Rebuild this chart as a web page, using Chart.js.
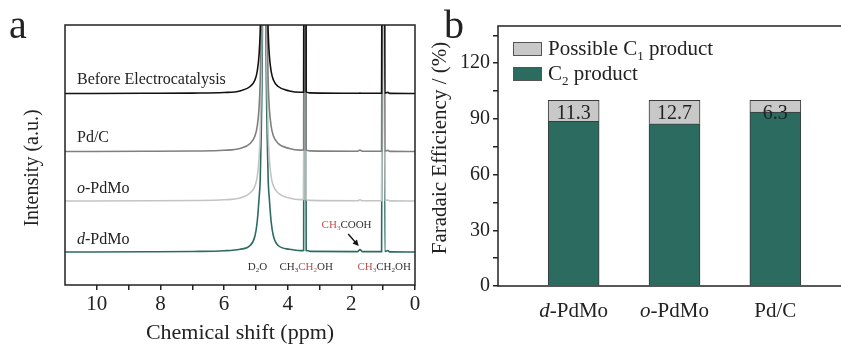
<!DOCTYPE html>
<html lang="en">
  <head>
    <title>NMR and Faradaic efficiency</title>
    <style>
      html, body { margin: 0; padding: 0; overflow: hidden; background: #fff; }
      #wrap { position: relative; width: 841px; height: 346px; overflow: hidden; }
      #nmr { position: absolute; left: 0; top: 0; }
      #fe { position: absolute; left: 420px; top: 0; }
    </style>
  </head>
  <body>
    <div id="wrap">
      <canvas id="nmr" width="430" height="346"></canvas>
      <canvas id="fe" width="440" height="346"></canvas>
    </div>

    <script src="https://cdn.jsdelivr.net/npm/chart.js"></script>

    <script>
      // panel a: 1H NMR spectra (intensity above each baseline, a.u.)
      const shiftPpm = [11, 8.5, 7.0, 6.0, 5.5, 5.18, 5.03, 4.96, 4.90, 4.865, 4.835, 4.80, 4.77, 4.74,
        4.71, 4.68, 4.645, 4.615, 4.58, 4.52, 4.45, 4.30, 3.95, 3.60, 3.50, 3.475, 3.455, 3.44, 3.42,
        3.37, 3.30, 1.80, 1.73, 1.66, 1.05, 1.00, 0.985, 0.97, 0.95, 0.85, 0.80, 0];
      const beforeSignal = [0, 0.2, 0.4, 1.0, 2.6, 7, 13.5, 22, 39, 62, 105, 200, 380, 500,
        380, 200, 105, 62, 39, 22, 13.5, 7, 2.6, 1.2, 1.4, 600, 900, 600, 1.5,
        1.0, 0.6, 0.2, 0.4, 0.2, 0.3, 600, 900, 600, 0.4, 1.2, 0.1, 0];
      const pdcSignal = [0, 0.2, 0.5, 1.2, 3, 8, 15.5, 25, 44, 70, 120, 220, 400, 520,
        400, 220, 120, 70, 44, 25, 15.5, 8, 3, 1.4, 1.5, 600, 900, 600, 1.5,
        1.0, 0.6, 0.3, 1.5, 0.3, 0.3, 600, 900, 600, 0.4, 1.2, 0.1, 0];
      const oPdMoSignal = [0, 0.2, 0.5, 1.2, 3, 8, 15, 24, 43, 68, 115, 215, 400, 520,
        400, 215, 115, 68, 43, 24, 15, 8, 3, 1.4, 1.5, 600, 900, 600, 1.5,
        1.0, 0.6, 0.3, 1.2, 0.3, 0.3, 600, 900, 600, 0.4, 1.0, 0.1, 0];
      const dPdMoSignal = [0, 0.2, 0.5, 1.2, 2.8, 6.5, 16, 30, 54, 72, 115, 200, 380, 500,
        380, 200, 115, 72, 54, 30, 16, 6.5, 2.8, 1.4, 1.6, 600, 900, 600, 1.5,
        1.2, 0.6, 0.4, 2.5, 0.4, 0.4, 600, 900, 600, 0.5, 1.5, 0.1, 0];
      const spectraNames = ["Before Electrocatalysis", "Pd/C", "o-PdMo", "d-PdMo"];
      const baselineOffsets = [191.5, 133.5, 84, 33];
      const shiftTicks = [0, 2, 4, 6, 8, 10];

      // panel b: faradaic efficiency (%)
      const catalysts = ["d-PdMo", "o-PdMo", "Pd/C"];
      const c2Values = [88.7, 87.3, 93.7];
      const c1Values = [11.3, 12.7, 6.3];
      const feTicks = [0, 30, 60, 90, 120];

      const SERIF = '"Liberation Serif", "Times New Roman", serif';
      const INK = "#222";
      const RED = "#c0504d";

      // draw text made of pieces (subscripts, italics, colours)
      function richText(ctx, parts, x, y, size, align) {
        const fontOf = (p) =>
          (p.i ? "italic " : "") + (p.sub ? Math.round(size * 0.62) : size) + "px " + SERIF;
        const widths = parts.map((p) => {
          ctx.font = fontOf(p);
          return ctx.measureText(p.t).width;
        });
        const total = widths.reduce((a, b) => a + b, 0);
        let cx = align === "center" ? x - total / 2 : x;
        ctx.textAlign = "left";
        ctx.textBaseline = "alphabetic";
        parts.forEach((p, k) => {
          ctx.font = fontOf(p);
          ctx.fillStyle = p.c || INK;
          ctx.fillText(p.t, cx, y + (p.sub ? size * 0.22 : 0));
          cx += widths[k];
        });
      }

      function nameParts(name) {
        const m = name.match(/^([od])(-.*)$/);
        return m ? [{ t: m[1], i: true }, { t: m[2] }] : [{ t: name }];
      }

      function verticalTitle(ctx, text, x, y, size) {
        ctx.save();
        ctx.translate(x, y);
        ctx.rotate(-Math.PI / 2);
        ctx.font = size + "px " + SERIF;
        ctx.fillStyle = INK;
        ctx.textAlign = "center";
        ctx.textBaseline = "middle";
        ctx.fillText(text, 0, 0);
        ctx.restore();
      }

      const nmrDecor = {
        id: "nmrDecor",
        afterDraw(chart) {
          const { ctx, chartArea: a, scales } = chart;
          const x = scales.x;
          ctx.save();
          ctx.strokeStyle = INK;
          ctx.lineWidth = 1.5;
          ctx.strokeRect(a.left, a.top, a.right - a.left, a.bottom - a.top);

          verticalTitle(ctx, "Intensity (a.u.)", 33, 168, 20);

          // spectrum names
          const nameY = [84, 141.5, 192.5, 244];
          spectraNames.forEach((n, k) => richText(ctx, nameParts(n), 77, nameY[k], 16, "left"));

          // peak assignments
          const dark = "#333";
          richText(ctx, [{ t: "D", c: dark }, { t: "2", sub: true, c: dark }, { t: "O", c: dark }],
            x.getPixelForValue(4.95), 270, 11, "center");
          richText(ctx, [{ t: "CH", c: dark }, { t: "3", sub: true, c: dark }, { t: "CH", c: RED },
            { t: "2", sub: true, c: RED }, { t: "OH", c: dark }],
            x.getPixelForValue(3.42), 270, 11, "center");
          richText(ctx, [{ t: "CH", c: RED }, { t: "3", sub: true, c: RED }, { t: "CH", c: dark },
            { t: "2", sub: true, c: dark }, { t: "OH", c: dark }],
            x.getPixelForValue(0.97), 270, 11, "center");
          richText(ctx, [{ t: "CH", c: RED }, { t: "3", sub: true, c: RED }, { t: "COOH", c: dark }],
            x.getPixelForValue(2.15), 228, 11, "center");

          // arrow to the acetate peak
          const x0 = x.getPixelForValue(2.1), y0 = 234;
          const x1 = x.getPixelForValue(1.77), y1 = 246;
          const ang = Math.atan2(y1 - y0, x1 - x0);
          ctx.strokeStyle = "#111";
          ctx.fillStyle = "#111";
          ctx.lineWidth = 1.3;
          ctx.beginPath();
          ctx.moveTo(x0, y0);
          ctx.lineTo(x1 - 4 * Math.cos(ang), y1 - 4 * Math.sin(ang));
          ctx.stroke();
          ctx.beginPath();
          ctx.moveTo(x1, y1);
          ctx.lineTo(x1 - 6 * Math.cos(ang) + 3 * Math.sin(ang), y1 - 6 * Math.sin(ang) - 3 * Math.cos(ang));
          ctx.lineTo(x1 - 6 * Math.cos(ang) - 3 * Math.sin(ang), y1 - 6 * Math.sin(ang) + 3 * Math.cos(ang));
          ctx.closePath();
          ctx.fill();

          ctx.font = "40px " + SERIF;
          ctx.fillStyle = INK;
          ctx.fillText("a", 9, 38);
          ctx.restore();
        },
      };

      const spectraColors = ["#111111", "#7f7f7f", "#c4c4c4", "#2d6b61"];
      const signals = [beforeSignal, pdcSignal, oPdMoSignal, dPdMoSignal];

      new Chart(document.getElementById("nmr"), {
        type: "line",
        data: {
          datasets: spectraNames.map((n, k) => ({
            label: n,
            data: shiftPpm.map((p, i) => ({ x: p, y: baselineOffsets[k] + signals[k][i] })),
            borderColor: spectraColors[k],
            borderWidth: 1.6,
            pointRadius: 0,
            cubicInterpolationMode: "monotone",
          })),
        },
        options: {
          responsive: false,
          animation: false,
          layout: { padding: { left: 0, right: 15, top: 25, bottom: 0 } },
          plugins: { legend: { display: false }, tooltip: { enabled: false } },
          scales: {
            x: {
              type: "linear",
              reverse: true,
              min: 0,
              max: 11,
              ticks: {
                stepSize: 1,
                autoSkip: false,
                maxRotation: 0,
                padding: 2,
                color: INK,
                font: { family: SERIF, size: 21 },
                callback: (v) => (shiftTicks.includes(v) ? String(v) : ""),
              },
              grid: {
                drawOnChartArea: false,
                tickLength: 5,
                lineWidth: 1.5,
                color: (c) => (c.tick && c.tick.value === 11 ? "rgba(0,0,0,0)" : INK),
              },
              border: { display: false },
              title: {
                display: true,
                text: "Chemical shift (ppm)",
                color: INK,
                font: { family: SERIF, size: 22 },
                padding: { top: 0, bottom: 0 },
              },
              afterFit: (s) => { s.height = 61; },
            },
            y: {
              min: 0,
              max: 260,
              ticks: { display: false },
              grid: { display: false },
              border: { display: false },
              afterFit: (s) => { s.width = 65; },
            },
          },
        },
        plugins: [nmrDecor],
      });

      const feDecor = {
        id: "feDecor",
        afterDraw(chart) {
          const { ctx, chartArea: a, scales } = chart;
          ctx.save();
          ctx.strokeStyle = INK;
          ctx.lineWidth = 1.5;
          ctx.strokeRect(a.left, a.top, a.right - a.left, a.bottom - a.top);

          verticalTitle(ctx, "Faradaic Efficiency / (%)", 20, 148, 21);

          // category labels
          catalysts.forEach((c, i) =>
            richText(ctx, nameParts(c), scales.x.getPixelForValue(i + 1), 317, 21, "center"));

          // C1 share written on the bars
          ctx.font = "20px " + SERIF;
          ctx.fillStyle = INK;
          ctx.textAlign = "center";
          ctx.textBaseline = "middle";
          c1Values.forEach((v, i) =>
            ctx.fillText(v.toFixed(1), scales.x.getPixelForValue(i + 1), scales.y.getPixelForValue(93)));

          // legend
          const ds = chart.data.datasets;
          [1, 0].forEach((k, row) => {
            const top = 42 + row * 25;
            ctx.fillStyle = ds[k].backgroundColor;
            ctx.fillRect(93, top, 29, 14);
            ctx.strokeStyle = "#555";
            ctx.lineWidth = 1;
            ctx.strokeRect(93.5, top + 0.5, 28, 13);
            const m = ds[k].label.match(/^(.*C)(\d)(.*)$/);
            richText(ctx, [{ t: m[1] }, { t: m[2], sub: true }, { t: m[3] }], 128, top + 13, 21, "left");
          });

          ctx.font = "40px " + SERIF;
          ctx.fillStyle = INK;
          ctx.textAlign = "left";
          ctx.textBaseline = "alphabetic";
          ctx.fillText("b", 24, 38);
          ctx.restore();
        },
      };

      new Chart(document.getElementById("fe"), {
        type: "bar",
        data: {
          datasets: [
            {
              label: "C2 product",
              data: catalysts.map((c, i) => ({ x: i + 1, y: c2Values[i] })),
              backgroundColor: "#2c6b60",
              borderColor: "#3a3a3a",
              borderWidth: 1,
              barThickness: 51,
            },
            {
              label: "Possible C1 product",
              data: catalysts.map((c, i) => ({ x: i + 1, y: c1Values[i] })),
              backgroundColor: "#c8c8c8",
              borderColor: "#3a3a3a",
              borderWidth: 1,
              barThickness: 51,
            },
          ],
        },
        options: {
          responsive: false,
          animation: false,
          layout: { padding: { left: 0, right: 9, top: 26, bottom: 0 } },
          plugins: { legend: { display: false }, tooltip: { enabled: false } },
          scales: {
            x: {
              type: "linear",
              offset: false,
              min: 0.25,
              max: 3.75,
              stacked: true,
              ticks: { display: false },
              grid: { display: false },
              border: { display: false },
              afterFit: (s) => { s.height = 60; },
            },
            y: {
              min: 0,
              max: 140,
              stacked: true,
              ticks: {
                stepSize: 15,
                includeBounds: false,
                autoSkip: false,
                padding: 3,
                color: INK,
                font: { family: SERIF, size: 20 },
                callback: (v) => (feTicks.includes(v) ? String(v) : ""),
              },
              grid: { drawOnChartArea: false, tickLength: 5, lineWidth: 1.5, color: INK },
              border: { display: false },
              afterFit: (s) => { s.width = 78; },
            },
          },
        },
        plugins: [feDecor],
      });
    </script>
  </body>
</html>
